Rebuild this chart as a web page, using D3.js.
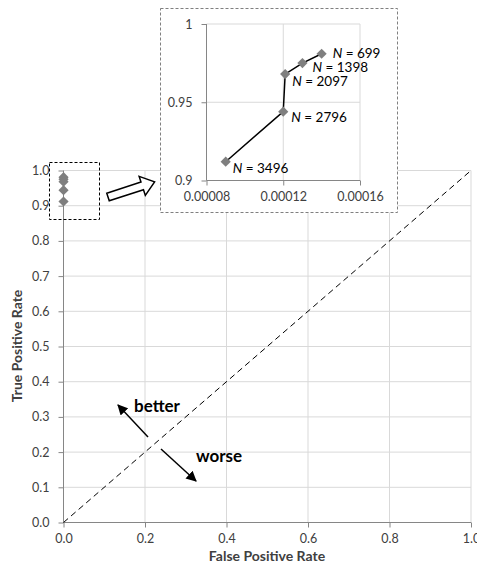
<!DOCTYPE html>
<html lang="en">
<head>
<meta charset="UTF-8">
<title>ROC</title>
<style>
  *{margin:0;padding:0;}
  body{background:#fff;}
  text{font-family:Lato,"Open Sans",sans-serif;fill:#404040;}
</style>
</head>
<body>
<div id="container"></div>
<script src="https://cdn.jsdelivr.net/npm/d3@7"></script>
<script>
var sampleN = [699, 1398, 2097, 2796, 3496],
    fpr = [0.000140, 0.000130, 0.000121, 0.000120, 0.000090],
    tpr = [0.981, 0.975, 0.968, 0.944, 0.912],
    mainTicksX = [0, 0.2, 0.4, 0.6, 0.8, 1.0],
    mainTicksY = [0, 0.1, 0.2, 0.3, 0.4, 0.5, 0.6, 0.7, 0.8, 0.9, 1.0],
    insetTicksX = [0.00008, 0.00012, 0.00016],
    insetTicksY = [0.9, 0.95, 1]

// label offsets (dx, dy) from each point in the inset
var labelOff = [[11, 4], [10, 9], [7, 12], [8, 10], [7, 11]]

var W = 477, H = 571
var axisCol = '#868686', gridCol = '#d9d9d9', markCol = '#7f7f7f'

var svg = d3.select('#container').append('svg').attr('width', W).attr('height', H)

function grid(g, x, y, xt, yt) {
  g.selectAll('.gx').data(xt.slice(1)).enter().append('line')
    .attr('x1', d => x(d)).attr('x2', d => x(d))
    .attr('y1', y.range()[0]).attr('y2', y.range()[1])
    .attr('stroke', gridCol).attr('stroke-width', 1)
  g.selectAll('.gy').data(yt.slice(1)).enter().append('line')
    .attr('x1', x.range()[0]).attr('x2', x.range()[1])
    .attr('y1', d => y(d)).attr('y2', d => y(d))
    .attr('stroke', gridCol).attr('stroke-width', 1)
}

function axes(g, x, y, xt, yt, fx, fy) {
  var ax = g.append('g').attr('transform', `translate(0,${y.range()[0]})`)
    .call(d3.axisBottom(x).tickValues(xt).tickFormat(fx).tickSize(5).tickPadding(7))
  var ay = g.append('g').attr('transform', `translate(${x.range()[0]},0)`)
    .call(d3.axisLeft(y).tickValues(yt).tickFormat(fy).tickSize(5).tickPadding(9))
  ;[ax, ay].forEach(a => {
    a.select('.domain').attr('stroke', axisCol).attr('d', null)
    a.selectAll('.tick line').attr('stroke', axisCol)
    a.selectAll('text').attr('font-size', 12.5).attr('fill', '#404040')
      .style('font-family', 'Lato, "Open Sans", sans-serif')
  })
  g.append('line').attr('x1', x.range()[0]).attr('x2', x.range()[1])
    .attr('y1', y.range()[0]).attr('y2', y.range()[0]).attr('stroke', axisCol)
  g.append('line').attr('x1', x.range()[0]).attr('x2', x.range()[0])
    .attr('y1', y.range()[0]).attr('y2', y.range()[1]).attr('stroke', axisCol)
}

var diamond = d3.symbol().type(d3.symbolSquare).size(52)

// ---- main chart
var x = d3.scaleLinear().domain([0, 1]).range([63.5, 471])
var y = d3.scaleLinear().domain([0, 1]).range([522.5, 170.5])
var main = svg.append('g')
grid(main, x, y, mainTicksX, mainTicksY)
axes(main, x, y, mainTicksX, mainTicksY, d3.format('.1f'), d3.format('.1f'))

main.append('line')
  .attr('x1', x(0)).attr('y1', y(0)).attr('x2', x(1)).attr('y2', y(1))
  .attr('stroke', '#000').attr('stroke-width', 1).attr('stroke-dasharray', '6,4')

main.selectAll('.pt').data(tpr).enter().append('path')
  .attr('d', diamond)
  .attr('transform', (d, i) => `translate(${x(fpr[i])},${y(d)}) rotate(45)`)
  .attr('fill', markCol)

main.append('rect').attr('x', 49.5).attr('y', 162.5).attr('width', 50).attr('height', 57)
  .attr('fill', 'none').attr('stroke', '#000').attr('stroke-dasharray', '3,2')

// block arrow to inset
var ah = svg.append('g').attr('transform', 'translate(108,197) rotate(-18)')
ah.append('path')
  .attr('d', 'M0,-4 L36,-4 L36,-10 L49,0 L36,10 L36,4 L0,4 Z')
  .attr('fill', '#fff').attr('stroke', '#000').attr('stroke-width', 1.5)

// better / worse arrows
svg.append('defs').append('marker').attr('id', 'ah')
  .attr('viewBox', '0 0 10 10').attr('refX', 9).attr('refY', 5)
  .attr('markerWidth', 7).attr('markerHeight', 7).attr('orient', 'auto')
  .append('path').attr('d', 'M0,0 L10,5 L0,10 Z').attr('fill', '#000')
svg.append('line').attr('x1', 148).attr('y1', 437).attr('x2', 118).attr('y2', 405)
  .attr('stroke', '#000').attr('stroke-width', 1.5).attr('marker-end', 'url(#ah)')
svg.append('line').attr('x1', 161).attr('y1', 449).attr('x2', 196).attr('y2', 481)
  .attr('stroke', '#000').attr('stroke-width', 1.5).attr('marker-end', 'url(#ah)')
svg.append('text').attr('x', 134).attr('y', 412).attr('font-size', 17)
  .attr('font-weight', 'bold').style('fill', '#000').text('better')
svg.append('text').attr('x', 196).attr('y', 462).attr('font-size', 17)
  .attr('font-weight', 'bold').style('fill', '#000').text('worse')

svg.append('text').attr('x', 267).attr('y', 561).attr('text-anchor', 'middle')
  .attr('font-size', 14).attr('font-weight', 'bold').text('False Positive Rate')
svg.append('text').attr('transform', 'translate(22,346) rotate(-90)').attr('text-anchor', 'middle')
  .attr('font-size', 14).attr('font-weight', 'bold').text('True Positive Rate')

// ---- inset
svg.append('rect').attr('x', 160.5).attr('y', 8.5).attr('width', 237).attr('height', 204)
  .attr('fill', '#fff').attr('stroke', '#7f7f7f').attr('stroke-dasharray', '3,2')
var xi = d3.scaleLinear().domain([0.00008, 0.00016]).range([206.5, 360])
var yi = d3.scaleLinear().domain([0.9, 1]).range([180.5, 24])
var ins = svg.append('g')
grid(ins, xi, yi, insetTicksX, insetTicksY)
axes(ins, xi, yi, insetTicksX, insetTicksY, d => d.toFixed(5), d => d === 1 ? '1' : d3.format('.2~f')(d))

ins.append('path')
  .datum(tpr)
  .attr('d', d3.line().x((d, i) => xi(fpr[i])).y(d => yi(d)))
  .attr('fill', 'none').attr('stroke', '#000').attr('stroke-width', 1.5)
ins.selectAll('.ipt').data(tpr).enter().append('path')
  .attr('d', diamond)
  .attr('transform', (d, i) => `translate(${xi(fpr[i])},${yi(d)}) rotate(45)`)
  .attr('fill', markCol)

var lab = ins.selectAll('.lab').data(sampleN).enter().append('text')
  .attr('x', (d, i) => xi(fpr[i]) + labelOff[i][0])
  .attr('y', (d, i) => yi(tpr[i]) + labelOff[i][1])
  .attr('font-size', 13.5).style('fill', '#000')
lab.append('tspan').attr('font-style', 'italic').text('N')
lab.append('tspan').text(d => ' = ' + d)
</script>
</body>
</html>
